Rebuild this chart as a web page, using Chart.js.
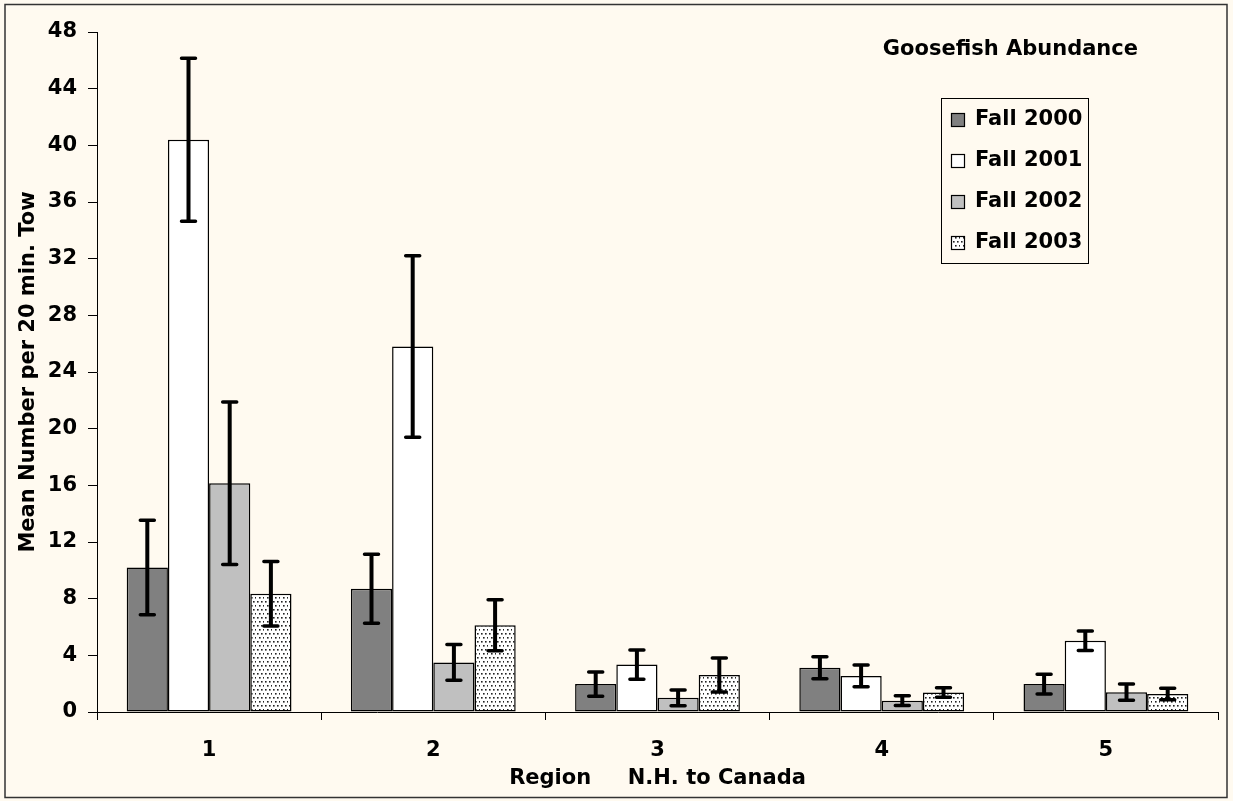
<!DOCTYPE html>
<html>
<head>
<meta charset="utf-8">
<script src="https://cdn.jsdelivr.net/npm/chart.js@4/dist/chart.umd.min.js"></script>
<style>
  html, body { margin: 0; padding: 0; background: #FFFAF0; }
  #wrap { width: 1233px; height: 801px; position: relative; }
</style>
</head>
<body>
<div id="wrap"><canvas id="c" width="1233" height="801"></canvas></div>
<script>
// ---- data ----
const regions = ['1', '2', '3', '4', '5'];
const seriesNames = ['Fall 2000', 'Fall 2001', 'Fall 2002', 'Fall 2003'];
const fall2000 = [10.2, 8.7, 1.97, 3.12, 1.97];
const fall2001 = [40.4, 25.8, 3.35, 2.55, 5.03];
const fall2002 = [16.15, 3.5, 1.0, 0.8, 1.4];
const fall2003 = [8.35, 6.13, 2.62, 1.38, 1.27];
const err2000 = [3.33, 2.44, 0.85, 0.78, 0.70];
const err2001 = [5.75, 6.41, 1.03, 0.76, 0.69];
const err2002 = [5.73, 1.26, 0.55, 0.34, 0.57];
const err2003 = [2.28, 1.80, 1.20, 0.34, 0.40];
const yTicks = [0, 4, 8, 12, 16, 20, 24, 28, 32, 36, 40, 44, 48];
const chartTitle = 'Goosefish Abundance';
const xTitle = 'Region     N.H. to Canada';
const yTitle = 'Mean Number per 20 min. Tow';

const FONT = "'DejaVu Sans', sans-serif";
const BG = '#FFFAF0';

// dotted pattern
function makeDots() {
  const t = document.createElement('canvas');
  t.width = 8; t.height = 8;
  const g = t.getContext('2d');
  g.fillStyle = '#ffffff';
  g.fillRect(0, 0, 8, 8);
  g.fillStyle = '#222222';
  [[1,1],[5,1],[3,5],[7,5]].forEach(([x,y]) => g.fillRect(x, y, 1.6, 1.6));
  return g.createPattern(t, 'repeat');
}
const dots = makeDots();

const values = [fall2000, fall2001, fall2002, fall2003];
const errs = [err2000, err2001, err2002, err2003];
const fills = ['#808080', '#ffffff', '#c0c0c0', dots];

const bgPlugin = {
  id: 'bg',
  beforeDraw(chart) {
    const ctx = chart.ctx;
    ctx.save();
    ctx.fillStyle = BG;
    ctx.fillRect(0, 0, chart.width, chart.height);
    ctx.strokeStyle = '#333333';
    ctx.lineWidth = 1.5;
    ctx.strokeRect(5, 4.5, 1222, 793);
    ctx.restore();
  }
};

const errPlugin = {
  id: 'errbars',
  afterDatasetsDraw(chart) {
    const ctx = chart.ctx;
    const ys = chart.scales.y;
    ctx.save();
    ctx.strokeStyle = '#000';
    chart.data.datasets.forEach((ds, i) => {
      const meta = chart.getDatasetMeta(i);
      meta.data.forEach((bar, j) => {
        const v = ds.data[j], e = errs[i][j];
        const yHi = ys.getPixelForValue(v + e);
        const yLo = ys.getPixelForValue(v - e);
        const x = bar.x;
        ctx.lineWidth = 4;
        ctx.lineCap = 'butt';
        ctx.beginPath();
        ctx.moveTo(x, yHi); ctx.lineTo(x, yLo);
        ctx.stroke();
        ctx.lineWidth = 3.5;
        ctx.lineCap = 'round';
        ctx.beginPath();
        ctx.moveTo(x - 7, yHi); ctx.lineTo(x + 7, yHi);
        ctx.moveTo(x - 7, yLo); ctx.lineTo(x + 7, yLo);
        ctx.stroke();
      });
    });
    ctx.restore();
  }
};

const legendPlugin = {
  id: 'customLegend',
  afterDraw(chart) {
    const ctx = chart.ctx;
    ctx.save();
    // title text
    ctx.fillStyle = '#000';
    ctx.font = 'bold 21px ' + FONT;
    ctx.textAlign = 'right';
    ctx.textBaseline = 'middle';
    ctx.fillText(chartTitle, 1138, 50);
    // legend box
    ctx.strokeStyle = '#000';
    ctx.lineWidth = 1;
    ctx.strokeRect(941.5, 98.5, 147, 165);
    ctx.font = 'bold 21px ' + FONT;
    ctx.textAlign = 'left';
    chart.data.datasets.forEach((ds, i) => {
      const cy = 120 + i * 41;
      ctx.fillStyle = ds.backgroundColor;
      ctx.fillRect(951, cy - 7, 14, 14);
      ctx.strokeStyle = '#000';
      ctx.lineWidth = 1.2;
      ctx.strokeRect(951.5, cy - 6.5, 13, 13);
      ctx.fillStyle = '#000';
      ctx.fillText(ds.label, 975, cy);
    });
    ctx.restore();
  }
};

new Chart(document.getElementById('c'), {
  type: 'bar',
  data: {
    labels: regions,
    datasets: values.map((vals, i) => ({
      label: seriesNames[i],
      data: vals,
      backgroundColor: fills[i],
      borderColor: '#000',
      borderWidth: 1.5,
      borderSkipped: false,
      categoryPercentage: 0.735,
      barPercentage: 1.0
    }))
  },
  options: {
    responsive: false,
    animation: false,
    devicePixelRatio: 1,
    layout: { padding: { top: 32, right: 15, left: 0, bottom: 0 } },
    plugins: {
      legend: { display: false },
      title: { display: false },
      tooltip: { enabled: false }
    },
    scales: {
      x: {
        afterFit(s) { s.height = 89; },
        grid: { display: true, drawOnChartArea: false, drawTicks: true, tickLength: 8, color: '#000', lineWidth: 1, offset: true },
        border: { display: true, color: '#000', width: 1 },
        ticks: { color: '#000', font: { family: FONT, size: 21, weight: 'bold' }, padding: 18 },
        title: { display: true, text: xTitle, color: '#000', font: { family: FONT, size: 21, weight: 'bold' }, padding: { top: 0, bottom: 10 } }
      },
      y: {
        min: 0, max: 48,
        afterFit(s) { s.width = 97; },
        afterBuildTicks(s) { s.ticks = yTicks.map(v => ({ value: v })); },
        grid: { display: true, drawOnChartArea: false, drawTicks: true, tickLength: 9, color: '#000', lineWidth: 1 },
        border: { display: true, color: '#000', width: 1 },
        ticks: { color: '#000', font: { family: FONT, size: 21, weight: 'bold' }, padding: 11 },
        title: { display: true, text: yTitle, color: '#000', font: { family: FONT, size: 21, weight: 'bold' }, padding: { top: 16, bottom: 0 } }
      }
    }
  },
  plugins: [bgPlugin, errPlugin, legendPlugin]
});
</script>
</body>
</html>
